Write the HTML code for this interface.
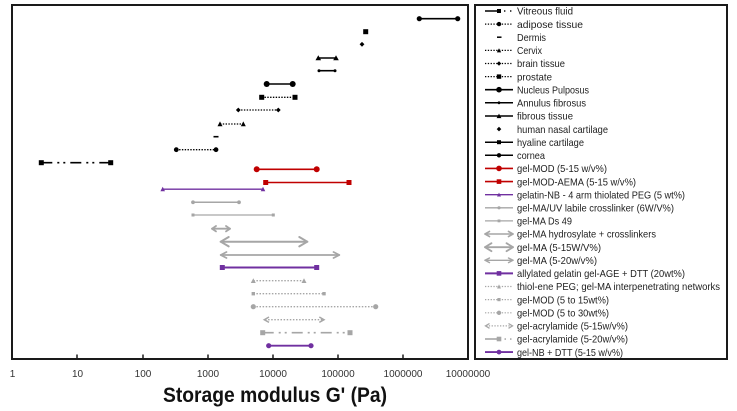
<!DOCTYPE html>
<html>
<head>
<meta charset="utf-8">
<style>
  html,body{margin:0;padding:0;background:#fff;}
  svg{display:block;}
  text{font-family:"Liberation Sans",sans-serif;}
</style>
</head>
<body>
<svg width="737" height="411" viewBox="0 0 737 411" xmlns="http://www.w3.org/2000/svg">
  <rect x="0" y="0" width="737" height="411" fill="#fff"/>

  <!-- plot frame -->
  <rect x="12" y="5" width="456" height="354" fill="none" stroke="#1a1a1a" stroke-width="2"/>
  <!-- ticks -->
  <g stroke="#1a1a1a" stroke-width="1.5">
    <line x1="77" y1="354.5" x2="77" y2="359"/>
    <line x1="143" y1="354.5" x2="143" y2="359"/>
    <line x1="208" y1="354.5" x2="208" y2="359"/>
    <line x1="273" y1="354.5" x2="273" y2="359"/>
    <line x1="338" y1="354.5" x2="338" y2="359"/>
    <line x1="403" y1="354.5" x2="403" y2="359"/>
  </g>
  <!-- tick labels -->
  <g font-size="10" fill="#333" text-anchor="middle">
    <text x="12.5" y="377">1</text>
    <text x="77.5" y="377">10</text>
    <text x="143" y="377">100</text>
    <text x="208" y="377">1000</text>
    <text x="273" y="377">10000</text>
    <text x="338" y="377">100000</text>
    <text x="403" y="377">1000000</text>
    <text x="468" y="377">10000000</text>
  </g>
  <text x="163" y="402" font-size="21" font-weight="bold" fill="#111" textLength="224" lengthAdjust="spacingAndGlyphs">Storage modulus G' (Pa)</text>

  <!-- ===== black tissue rows ===== -->
  <g fill="#000" stroke="#000">
    <line x1="419.3" y1="18.7" x2="457.7" y2="18.7" stroke-width="1.6"/>
    <circle cx="419.3" cy="18.7" r="2.6" stroke="none"/>
    <circle cx="457.7" cy="18.7" r="2.6" stroke="none"/>
    <rect x="363.2" y="29.2" width="5" height="5" stroke="none"/>
    <polygon points="362,41.9 364.4,44.3 362,46.7 359.6,44.3" stroke="none"/>
    <line x1="318.3" y1="58" x2="336" y2="58" stroke-width="1.6"/>
    <polygon points="315.5,60.3 321.1,60.3 318.3,55.3" stroke="none"/>
    <polygon points="333.2,60.3 338.8,60.3 336,55.3" stroke="none"/>
    <line x1="319" y1="70.7" x2="335" y2="70.7" stroke-width="1.6"/>
    <circle cx="319" cy="70.7" r="1.5" stroke="none"/>
    <circle cx="335" cy="70.7" r="1.5" stroke="none"/>
    <line x1="266.7" y1="84" x2="292.7" y2="84" stroke-width="1.6"/>
    <circle cx="266.7" cy="84" r="3" stroke="none"/>
    <circle cx="292.7" cy="84" r="3" stroke="none"/>
    <line x1="261.7" y1="97.3" x2="295" y2="97.3" stroke-width="1.3" stroke-dasharray="1.4 1.4"/>
    <rect x="259.2" y="94.8" width="5" height="5" stroke="none"/>
    <rect x="292.5" y="94.8" width="5" height="5" stroke="none"/>
    <line x1="238.3" y1="110" x2="278.3" y2="110" stroke-width="1.3" stroke-dasharray="1.4 1.4"/>
    <polygon points="238.3,107.6 240.7,110 238.3,112.4 235.9,110" stroke="none"/>
    <polygon points="278.3,107.6 280.7,110 278.3,112.4 275.9,110" stroke="none"/>
    <line x1="220" y1="124" x2="243.3" y2="124" stroke-width="1.3" stroke-dasharray="1.4 1.4"/>
    <polygon points="217.5,126.2 222.5,126.2 220,121.4" stroke="none"/>
    <polygon points="240.8,126.2 245.8,126.2 243.3,121.4" stroke="none"/>
    <line x1="213.5" y1="136.7" x2="218.5" y2="136.7" stroke-width="1.6"/>
    <line x1="176.3" y1="149.7" x2="216" y2="149.7" stroke-width="1.3" stroke-dasharray="1.4 1.4"/>
    <circle cx="176.3" cy="149.7" r="2.4" stroke="none"/>
    <circle cx="216" cy="149.7" r="2.4" stroke="none"/>
    <line x1="41.3" y1="162.7" x2="110.7" y2="162.7" stroke-width="1.6" stroke-dasharray="11 5 2 4 2 5"/>
    <rect x="38.8" y="160.2" width="5" height="5" stroke="none"/>
    <rect x="108.2" y="160.2" width="5" height="5" stroke="none"/>
  </g>

  <!-- ===== gel rows ===== -->
  <g fill="#c00000" stroke="#c00000">
    <line x1="256.7" y1="169.3" x2="316.7" y2="169.3" stroke-width="1.6"/>
    <circle cx="256.7" cy="169.3" r="3" stroke="none"/>
    <circle cx="316.7" cy="169.3" r="3" stroke="none"/>
    <line x1="265.7" y1="182.5" x2="349" y2="182.5" stroke-width="1.6"/>
    <rect x="263.2" y="180" width="5" height="5" stroke="none"/>
    <rect x="346.5" y="180" width="5" height="5" stroke="none"/>
  </g>
  <g fill="#7030a0" stroke="#7030a0">
    <line x1="162.7" y1="189.2" x2="263" y2="189.2" stroke-width="1.4"/>
    <polygon points="160.4,191.2 165,191.2 162.7,186.8" stroke="none"/>
    <polygon points="260.7,191.2 265.3,191.2 263,186.8" stroke="none"/>
  </g>
  <g fill="#a6a6a6" stroke="#a6a6a6">
    <line x1="193" y1="202.3" x2="239" y2="202.3" stroke-width="1.5"/>
    <circle cx="193" cy="202.3" r="1.9" stroke="none"/>
    <circle cx="239" cy="202.3" r="1.9" stroke="none"/>
    <line x1="193" y1="215" x2="273.3" y2="215" stroke-width="1.3"/>
    <rect x="191.5" y="213.5" width="3" height="3" stroke="none"/>
    <rect x="271.8" y="213.5" width="3" height="3" stroke="none"/>
  </g>
  <g fill="none" stroke="#a6a6a6" stroke-linecap="round" stroke-linejoin="round">
    <line x1="212" y1="228.7" x2="230" y2="228.7" stroke-width="1.8"/>
    <polyline points="216,226 212,228.7 216,231.4" stroke-width="1.8"/>
    <polyline points="226,226 230,228.7 226,231.4" stroke-width="1.8"/>
    <line x1="220.7" y1="241.7" x2="307.3" y2="241.7" stroke-width="2"/>
    <polyline points="228.7,237 220.7,241.7 228.7,246.4" stroke-width="2"/>
    <polyline points="299.3,237 307.3,241.7 299.3,246.4" stroke-width="2"/>
    <line x1="220.7" y1="255" x2="339.3" y2="255" stroke-width="1.7"/>
    <polyline points="226.5,252 220.7,255 226.5,258" stroke-width="1.7"/>
    <polyline points="333.5,252 339.3,255 333.5,258" stroke-width="1.7"/>
  </g>
  <g fill="#7030a0" stroke="#7030a0">
    <line x1="222.3" y1="267.5" x2="316.7" y2="267.5" stroke-width="1.9"/>
    <rect x="219.8" y="265" width="5" height="5" stroke="none"/>
    <rect x="314.2" y="265" width="5" height="5" stroke="none"/>
  </g>
  <g fill="#a6a6a6" stroke="#a6a6a6">
    <line x1="253.3" y1="280.7" x2="304" y2="280.7" stroke-width="1.3" stroke-dasharray="1.5 1.6"/>
    <polygon points="250.8,283 255.8,283 253.3,278.2" stroke="none"/>
    <polygon points="301.5,283 306.5,283 304,278.2" stroke="none"/>
    <line x1="253.3" y1="293.7" x2="324" y2="293.7" stroke-width="1.3" stroke-dasharray="1.5 1.6"/>
    <rect x="251.6" y="292" width="3.4" height="3.4" stroke="none"/>
    <rect x="322.3" y="292" width="3.4" height="3.4" stroke="none"/>
    <line x1="253.3" y1="306.7" x2="375.7" y2="306.7" stroke-width="1.3" stroke-dasharray="1.5 1.6"/>
    <circle cx="253.3" cy="306.7" r="2.6" stroke="none"/>
    <circle cx="375.7" cy="306.7" r="2.6" stroke="none"/>
    <line x1="265" y1="319.7" x2="323.3" y2="319.7" stroke-width="1.3" stroke-dasharray="1.5 1.6"/>
    <polyline points="269,317 264.3,319.7 269,322.4" fill="none" stroke-width="1.5"/>
    <polyline points="319.3,317 324,319.7 319.3,322.4" fill="none" stroke-width="1.5"/>
    <line x1="262.7" y1="332.7" x2="350" y2="332.7" stroke-width="1.6" stroke-dasharray="11 5 2 4 2 5"/>
    <rect x="260.2" y="330.2" width="5" height="5" stroke="none"/>
    <rect x="347.5" y="330.2" width="5" height="5" stroke="none"/>
  </g>
  <g fill="#7030a0" stroke="#7030a0">
    <line x1="268.7" y1="345.7" x2="311" y2="345.7" stroke-width="1.9"/>
    <circle cx="268.7" cy="345.7" r="2.6" stroke="none"/>
    <circle cx="311" cy="345.7" r="2.6" stroke="none"/>
  </g>

  <!-- ===== legend ===== -->
  <rect x="475" y="5" width="252" height="354" fill="none" stroke="#1a1a1a" stroke-width="2"/>

  <g fill="#000" stroke="#000">
    <line x1="485" y1="11" x2="497" y2="11" stroke-width="1.5"/>
    <rect x="497" y="9" width="4" height="4" stroke="none"/>
    <rect x="504" y="10.3" width="1.4" height="1.4" stroke="none"/>
    <rect x="510" y="10.3" width="1.4" height="1.4" stroke="none"/>
    <line x1="485" y1="24.1" x2="513" y2="24.1" stroke-width="1.2" stroke-dasharray="1.3 1.5"/>
    <circle cx="499" cy="24.1" r="2.2" stroke="none"/>
    <line x1="497" y1="37.2" x2="501.5" y2="37.2" stroke-width="1.5"/>
    <line x1="485" y1="50.4" x2="513" y2="50.4" stroke-width="1.2" stroke-dasharray="1.3 1.5"/>
    <polygon points="496.8,52.4 501.2,52.4 499,48.2" stroke="none"/>
    <line x1="485" y1="63.5" x2="513" y2="63.5" stroke-width="1.2" stroke-dasharray="1.3 1.5"/>
    <polygon points="499,61.3 501.2,63.5 499,65.7 496.8,63.5" stroke="none"/>
    <line x1="485" y1="76.6" x2="513" y2="76.6" stroke-width="1.2" stroke-dasharray="1.3 1.5"/>
    <rect x="496.8" y="74.4" width="4.4" height="4.4" stroke="none"/>
    <line x1="485" y1="89.7" x2="513" y2="89.7" stroke-width="1.6"/>
    <circle cx="499" cy="89.7" r="2.8" stroke="none"/>
    <line x1="485" y1="102.8" x2="513" y2="102.8" stroke-width="1.5"/>
    <circle cx="499" cy="102.8" r="1.4" stroke="none"/>
    <line x1="485" y1="116" x2="513" y2="116" stroke-width="1.5"/>
    <polygon points="496.6,118.1 501.4,118.1 499,113.6" stroke="none"/>
    <polygon points="499,126.8 501.3,129.1 499,131.4 496.7,129.1" stroke="none"/>
    <line x1="485" y1="142.2" x2="513" y2="142.2" stroke-width="1.5"/>
    <rect x="497" y="140.2" width="4" height="4" stroke="none"/>
    <line x1="485" y1="155.3" x2="513" y2="155.3" stroke-width="1.5"/>
    <circle cx="499" cy="155.3" r="2.2" stroke="none"/>
  </g>
  <g fill="#c00000" stroke="#c00000">
    <line x1="485" y1="168.4" x2="513" y2="168.4" stroke-width="1.6"/>
    <circle cx="499" cy="168.4" r="2.8" stroke="none"/>
    <line x1="485" y1="181.6" x2="513" y2="181.6" stroke-width="1.6"/>
    <rect x="496.7" y="179.3" width="4.6" height="4.6" stroke="none"/>
  </g>
  <g fill="#7030a0" stroke="#7030a0">
    <line x1="485" y1="194.7" x2="513" y2="194.7" stroke-width="1.4"/>
    <polygon points="497,196.5 501,196.5 499,192.6" stroke="none"/>
  </g>
  <g fill="#a6a6a6" stroke="#a6a6a6">
    <line x1="485" y1="207.8" x2="513" y2="207.8" stroke-width="1.4"/>
    <circle cx="499" cy="207.8" r="1.6" stroke="none"/>
    <line x1="485" y1="220.9" x2="513" y2="220.9" stroke-width="1.2"/>
    <rect x="497.6" y="219.5" width="2.8" height="2.8" stroke="none"/>
  </g>
  <g fill="none" stroke="#a6a6a6" stroke-linecap="round" stroke-linejoin="round">
    <line x1="485" y1="234" x2="513" y2="234" stroke-width="1.6"/>
    <polyline points="489.5,231.4 485,234 489.5,236.6" stroke-width="1.6"/>
    <polyline points="508.5,231.4 513,234 508.5,236.6" stroke-width="1.6"/>
    <line x1="485" y1="247.2" x2="513" y2="247.2" stroke-width="1.8"/>
    <polyline points="491.5,243.2 485,247.2 491.5,251.2" stroke-width="1.8"/>
    <polyline points="506.5,243.2 513,247.2 506.5,251.2" stroke-width="1.8"/>
    <line x1="485" y1="260.3" x2="513" y2="260.3" stroke-width="1.4"/>
    <polyline points="489.5,258 485,260.3 489.5,262.6" stroke-width="1.4"/>
    <polyline points="508.5,258 513,260.3 508.5,262.6" stroke-width="1.4"/>
  </g>
  <g fill="#7030a0" stroke="#7030a0">
    <line x1="485" y1="273.4" x2="513" y2="273.4" stroke-width="2"/>
    <rect x="496.7" y="271.1" width="4.6" height="4.6" stroke="none"/>
  </g>
  <g fill="#a6a6a6" stroke="#a6a6a6">
    <line x1="485" y1="286.5" x2="513" y2="286.5" stroke-width="1.2" stroke-dasharray="1.3 1.5"/>
    <polygon points="497,288.5 501,288.5 499,284.4" stroke="none"/>
    <line x1="485" y1="299.6" x2="513" y2="299.6" stroke-width="1.2" stroke-dasharray="1.3 1.5"/>
    <rect x="497.4" y="298" width="3.2" height="3.2" stroke="none"/>
    <line x1="485" y1="312.8" x2="513" y2="312.8" stroke-width="1.2" stroke-dasharray="1.3 1.5"/>
    <circle cx="499" cy="312.8" r="2.2" stroke="none"/>
    <line x1="486" y1="325.9" x2="512" y2="325.9" stroke-width="1.2" stroke-dasharray="1.3 1.5"/>
    <polyline points="489.5,323.5 485.5,325.9 489.5,328.3" fill="none" stroke-width="1.3"/>
    <polyline points="508.5,323.5 512.5,325.9 508.5,328.3" fill="none" stroke-width="1.3"/>
    <line x1="485" y1="339" x2="497" y2="339" stroke-width="1.6"/>
    <rect x="496.7" y="336.7" width="4.6" height="4.6" stroke="none"/>
    <rect x="504.5" y="338.3" width="1.5" height="1.5" stroke="none"/>
    <rect x="510" y="338.3" width="1.5" height="1.5" stroke="none"/>
  </g>
  <g fill="#7030a0" stroke="#7030a0">
    <line x1="485" y1="352.1" x2="513" y2="352.1" stroke-width="1.9"/>
    <circle cx="499" cy="352.1" r="2.4" stroke="none"/>
  </g>

  <!-- legend text -->
  <g font-size="10.5" fill="#1e1e1e">
    <text x="517" y="14.7" textLength="56" lengthAdjust="spacingAndGlyphs">Vitreous fluid</text>
    <text x="517" y="27.8" textLength="66" lengthAdjust="spacingAndGlyphs">adipose tissue</text>
    <text x="517" y="40.9" textLength="29" lengthAdjust="spacingAndGlyphs">Dermis</text>
    <text x="517" y="54.1" textLength="25" lengthAdjust="spacingAndGlyphs">Cervix</text>
    <text x="517" y="67.2" textLength="48" lengthAdjust="spacingAndGlyphs">brain tissue</text>
    <text x="517" y="80.3" textLength="35" lengthAdjust="spacingAndGlyphs">prostate</text>
    <text x="517" y="93.4" textLength="72" lengthAdjust="spacingAndGlyphs">Nucleus Pulposus</text>
    <text x="517" y="106.5" textLength="69" lengthAdjust="spacingAndGlyphs">Annulus fibrosus</text>
    <text x="517" y="119.7" textLength="56" lengthAdjust="spacingAndGlyphs">fibrous tissue</text>
    <text x="517" y="132.8" textLength="91" lengthAdjust="spacingAndGlyphs">human nasal cartilage</text>
    <text x="517" y="145.9" textLength="67" lengthAdjust="spacingAndGlyphs">hyaline cartilage</text>
    <text x="517" y="159" textLength="28" lengthAdjust="spacingAndGlyphs">cornea</text>
    <text x="517" y="172.1" textLength="90" lengthAdjust="spacingAndGlyphs">gel-MOD (5-15 w/v%)</text>
    <text x="517" y="185.3" textLength="119" lengthAdjust="spacingAndGlyphs">gel-MOD-AEMA (5-15 w/v%)</text>
    <text x="517" y="198.4" textLength="168" lengthAdjust="spacingAndGlyphs">gelatin-NB - 4 arm thiolated PEG (5 wt%)</text>
    <text x="517" y="211.5" textLength="157" lengthAdjust="spacingAndGlyphs">gel-MA/UV labile crosslinker (6W/V%)</text>
    <text x="517" y="224.6" textLength="55" lengthAdjust="spacingAndGlyphs">gel-MA Ds 49</text>
    <text x="517" y="237.7" textLength="139" lengthAdjust="spacingAndGlyphs">gel-MA hydrosylate + crosslinkers</text>
    <text x="517" y="250.9" textLength="84" lengthAdjust="spacingAndGlyphs">gel-MA (5-15W/V%)</text>
    <text x="517" y="264" textLength="80" lengthAdjust="spacingAndGlyphs">gel-MA (5-20w/v%)</text>
    <text x="517" y="277.1" textLength="168" lengthAdjust="spacingAndGlyphs">allylated gelatin gel-AGE + DTT (20wt%)</text>
    <text x="517" y="290.2" textLength="203" lengthAdjust="spacingAndGlyphs">thiol-ene PEG; gel-MA interpenetrating networks</text>
    <text x="517" y="303.3" textLength="92" lengthAdjust="spacingAndGlyphs">gel-MOD (5 to 15wt%)</text>
    <text x="517" y="316.5" textLength="92" lengthAdjust="spacingAndGlyphs">gel-MOD (5 to 30wt%)</text>
    <text x="517" y="329.6" textLength="111" lengthAdjust="spacingAndGlyphs">gel-acrylamide (5-15w/v%)</text>
    <text x="517" y="342.7" textLength="111" lengthAdjust="spacingAndGlyphs">gel-acrylamide (5-20w/v%)</text>
    <text x="517" y="355.8" textLength="106" lengthAdjust="spacingAndGlyphs">gel-NB + DTT (5-15 w/v%)</text>
  </g>
</svg>
</body>
</html>
